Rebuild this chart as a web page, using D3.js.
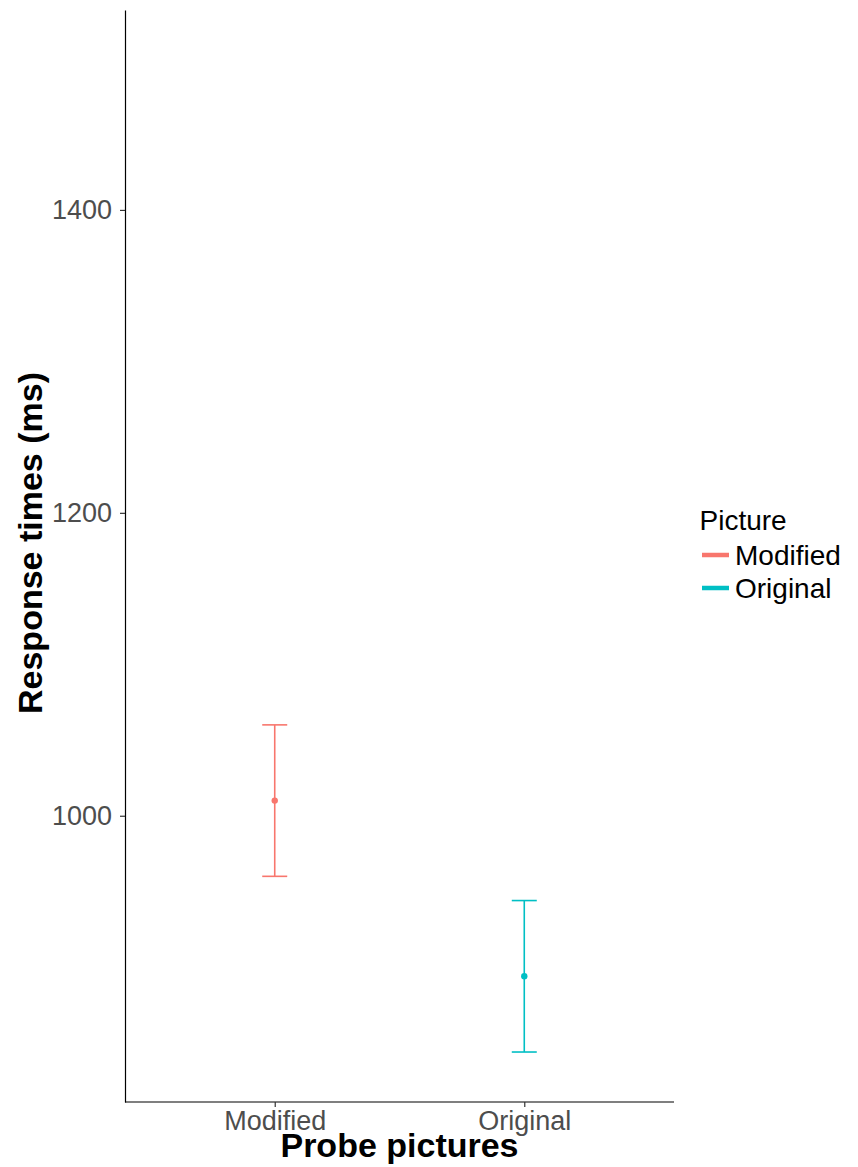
<!DOCTYPE html>
<html><head><meta charset="utf-8">
<script src="https://cdn.jsdelivr.net/npm/d3@7"></script>
<style>body{margin:0;background:#fff}svg{display:block}</style>
</head><body>
<script>
const categories = ["Modified", "Original"];
const means = [1010, 894];
const lower = [960, 844];
const upper = [1060, 944];
const colors = ["#F8766D", "#00BFC4"];
const yTicks = [1000, 1200, 1400];

(function () {
const W = 858, H = 1167;
const pL = 125, pR = 674, pT = 10, pB = 1102;
const svg = d3.select("body").append("svg").attr("width", W).attr("height", H)
  .style("font-family", "Liberation Sans, Arial, sans-serif");

const x = d3.scalePoint().domain(categories).range([pL, pR]).padding(0.6);
const y = d3.scaleLinear().domain([811, 1532]).range([pB, pT]);

// y axis
const ya = svg.append("g").attr("transform", `translate(${pL},0)`)
  .call(d3.axisLeft(y).tickValues(yTicks).tickSizeInner(5).tickSizeOuter(0).tickPadding(8).tickFormat(d3.format("d")));
ya.select(".domain").attr("stroke", "#000").attr("stroke-width", 1.2);
ya.selectAll(".tick line").attr("stroke", "#333").attr("stroke-width", 1.2);
ya.selectAll(".tick text").attr("fill", "#4D4D4D").style("font-size", "27px");

// x axis
const xa = svg.append("g").attr("transform", `translate(0,${pB})`)
  .call(d3.axisBottom(x).tickSizeInner(5).tickSizeOuter(0).tickPadding(4));
xa.select(".domain").attr("stroke", "#000").attr("stroke-width", 1.2).attr("d", `M${pL},0H${pR}`);
xa.selectAll(".tick line").attr("stroke", "#333").attr("stroke-width", 1.2);
xa.selectAll(".tick text").attr("fill", "#4D4D4D").style("font-size", "27px");

// error bars
const g = svg.append("g");
categories.forEach((c, i) => {
  const cx = x(c), hw = 12.5;
  const col = colors[i];
  g.append("line").attr("x1", cx).attr("x2", cx).attr("y1", y(upper[i])).attr("y2", y(lower[i]))
    .attr("stroke", col).attr("stroke-width", 1.6);
  g.append("line").attr("x1", cx - hw).attr("x2", cx + hw).attr("y1", y(upper[i])).attr("y2", y(upper[i]))
    .attr("stroke", col).attr("stroke-width", 1.6);
  g.append("line").attr("x1", cx - hw).attr("x2", cx + hw).attr("y1", y(lower[i])).attr("y2", y(lower[i]))
    .attr("stroke", col).attr("stroke-width", 1.6);
  g.append("circle").attr("cx", cx).attr("cy", y(means[i])).attr("r", 3.2).attr("fill", col);
});

// axis titles
svg.append("text").attr("x", (pL + pR) / 2).attr("y", 1157).attr("text-anchor", "middle")
  .style("font-size", "34px").style("font-weight", "bold").text("Probe pictures");
svg.append("text").attr("transform", `translate(42,543) rotate(-90)`)
  .attr("text-anchor", "middle").style("font-size", "34px").style("font-weight", "bold")
  .text("Response times (ms)");

// legend
const lg = svg.append("g");
lg.append("text").attr("x", 699.5).attr("y", 530).style("font-size", "28px").text("Picture");
categories.forEach((c, i) => {
  const yy = 555 + i * 33;
  lg.append("line").attr("x1", 702).attr("x2", 729).attr("y1", yy).attr("y2", yy)
    .attr("stroke", colors[i]).attr("stroke-width", 4.5);
  lg.append("text").attr("x", 735).attr("y", yy + 10).style("font-size", "28px").text(c);
});
})();
</script>
</body></html>
